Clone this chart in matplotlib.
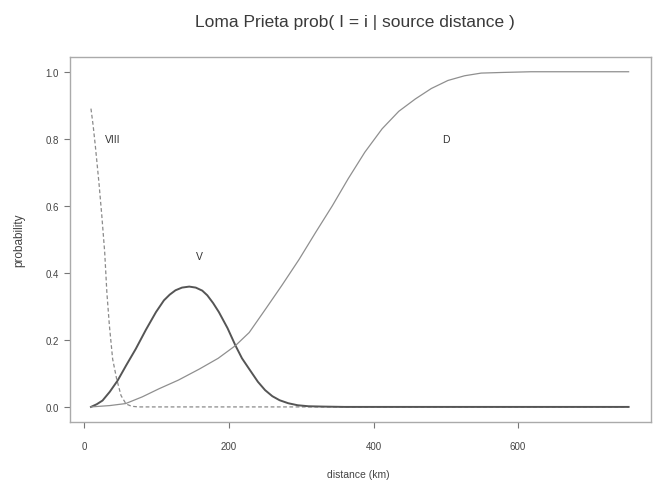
import matplotlib
matplotlib.use("Agg")
import matplotlib.pyplot as plt

# Data
viii_x = [9, 12, 15, 20, 24, 28, 31, 34.5, 39, 44.5, 50.6, 57.5, 65, 75, 753]
viii_y = [0.89, 0.84, 0.78, 0.67, 0.571, 0.462, 0.342, 0.243, 0.143, 0.084, 0.034, 0.009, 0.002, 0.0, 0.0]

v_x = [9, 17, 25, 35, 46, 58, 71, 85, 99, 110, 118, 126, 135, 145, 154, 163, 170, 178, 186, 198, 209, 218, 228, 240, 250, 260, 270, 282, 295, 310, 330, 360, 753]
v_y = [0.0, 0.008, 0.019, 0.045, 0.079, 0.125, 0.173, 0.23, 0.283, 0.318, 0.335, 0.348, 0.356, 0.359, 0.356, 0.347, 0.333, 0.31, 0.283, 0.235, 0.183, 0.145, 0.113, 0.075, 0.05, 0.032, 0.02, 0.011, 0.005, 0.002, 0.001, 0.0, 0.0]

d_x = [9, 35, 57, 80, 103, 130, 159, 185, 209, 228, 250, 273, 297, 320, 343, 365, 388, 412, 435, 458, 480, 503, 526, 549, 580, 618, 680, 753]
d_y = [0.0, 0.004, 0.01, 0.03, 0.054, 0.08, 0.113, 0.145, 0.183, 0.222, 0.29, 0.362, 0.44, 0.521, 0.60, 0.681, 0.76, 0.83, 0.882, 0.919, 0.95, 0.974, 0.988, 0.996, 0.998, 1.0, 1.0, 1.0]

labels = ["VIII", "V", "D"]
label_x = [39, 159, 500]
label_y = [0.8, 0.45, 0.8]

x_ticks = [0, 200, 400, 600]
y_ticks = [0.0, 0.2, 0.4, 0.6, 0.8, 1.0]

plt.rcParams['font.family'] = ['Liberation Sans', 'DejaVu Sans']

fig = plt.figure(figsize=(6.55, 4.85), dpi=100)
ax = fig.add_axes([70/655, (485-423)/485, (651-70)/655, (423-58)/485])

ax.plot(viii_x, viii_y, color="#8a8a8a", lw=0.9, ls=(0, (3, 2)))
ax.plot(v_x, v_y, color="#555555", lw=1.4)
ax.plot(d_x, d_y, color="#8f8f8f", lw=0.9)

for t, x, y in zip(labels, label_x, label_y):
    ax.text(x, y, t, fontsize=7.5, color="#333333", ha="center", va="center")

ax.set_xlim(-20, 784)
ax.set_ylim(-0.045, 1.044)
ax.set_xticks(x_ticks)
ax.set_xticklabels([str(v) for v in x_ticks])
ax.set_yticks(y_ticks)
ax.set_yticklabels([f"{v:.1f}" for v in y_ticks])

for s in ax.spines.values():
    s.set_color("#aaaaaa")
    s.set_linewidth(1.0)
ax.tick_params(axis="x", direction="out", length=4, width=0.8, color="#777777",
               labelsize=7, labelcolor="#444444", pad=10)
ax.tick_params(axis="y", direction="out", length=4, width=0.8, color="#777777",
               labelsize=7, labelcolor="#444444", pad=4)

fig.text(355/655, 1 - 22/485, "Loma Prieta prob( I = i | source distance )",
         ha="center", va="center", fontsize=12.5, color="#3a3a3a")
fig.text(358/655, 1 - 475/485, "distance (km)", ha="center", va="center",
         fontsize=7.5, color="#444444")
fig.text(19/655, 1 - 240/485, "probability", ha="center", va="center",
         fontsize=8.5, color="#444444", rotation=90)

fig.savefig("out.png", dpi=100)
